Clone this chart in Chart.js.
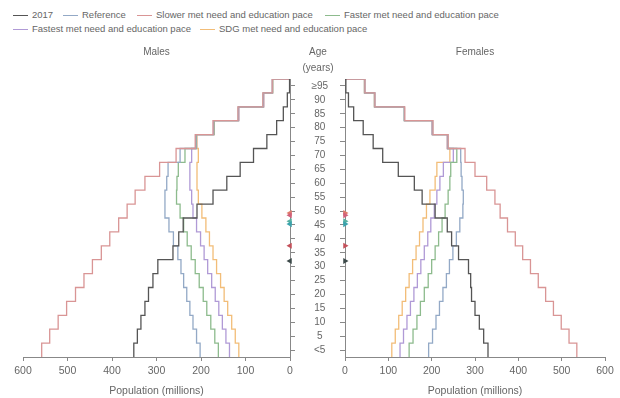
<!DOCTYPE html>
<html>
<head>
<meta charset="utf-8">
<script src="https://cdn.jsdelivr.net/npm/chart.js@4.4.1/dist/chart.umd.min.js"></script>
<style>
    body { margin: 0; background: #fff; width: 620px; height: 398px; position: relative; overflow: hidden; font-family: "Liberation Sans", Arial, sans-serif; }
    #maleWrap { position: absolute; left: 0; top: 0; width: 300px; height: 398px; }
    #femaleWrap { position: absolute; left: 300px; top: 0; width: 320px; height: 398px; }
    .leg { position: absolute; font-size: 9.5px; color: #666; white-space: nowrap; line-height: 12px; }
    .leg i { display: inline-block; width: 15px; height: 0; border-top-width: 1.5px; border-top-style: solid; vertical-align: middle; margin-right: 4px; }
</style>
</head>
<body>
<div id="legend"></div>
<div id="maleWrap"><canvas id="maleChart"></canvas></div>
<div id="femaleWrap"><canvas id="femaleChart"></canvas></div>
<script>
const ageLabels = ["<5", "5", "10", "15", "20", "25", "30", "35", "40", "45", "50", "55", "60", "65", "70", "75", "80", "85", "90", "≥95"];
const ageStarts = [0, 5, 10, 15, 20, 25, 30, 35, 40, 45, 50, 55, 60, 65, 70, 75, 80, 85, 90, 95];

const seriesNames = ["2017", "Reference", "Slower met need and education pace", "Faster met need and education pace", "Fastest met need and education pace", "SDG met need and education pace"];
const seriesColors = ["#555555", "#93a9c6", "#d99595", "#8dbb8d", "#b09ad6", "#f2bd78"];
const drawOrder = [0, 2, 1, 3, 4, 5];
const markerColors = ["#3d4a4a", "#3aa3ad", "#c4505a", "#56b0a0", "#d0607a", "#e07a6a"];
const markerAges = [34.5, 47.8, 40, 48.8, 51, 51.8];

// population in millions, by age group (<5 ... 95+)
const males2017 = [351, 343, 335, 326, 318, 308, 297, 263, 250, 240, 209, 173, 142, 112, 82, 52, 30, 15, 6, 1];
const malesReference = [202, 210, 218, 225, 232, 239, 245, 252, 262, 272, 281, 281, 277, 274, 247, 212, 172, 116, 60, 40];
const malesSlower = [558, 540, 521, 502, 482, 463, 444, 424, 405, 385, 366, 348, 326, 293, 256, 213, 173, 117, 61, 40];
const malesFaster = [161, 169, 178, 187, 195, 204, 213, 222, 231, 239, 247, 255, 254, 251, 236, 211, 171, 116, 60, 39];
const malesFastest = [136, 144, 152, 160, 168, 176, 185, 193, 201, 210, 218, 221, 225, 225, 221, 210, 171, 115, 59, 39];
const malesSdg = [115, 123, 131, 140, 148, 156, 165, 173, 181, 189, 198, 206, 209, 209, 206, 209, 170, 115, 59, 39];

const females2017 = [330, 320, 310, 300, 292, 290, 285, 262, 246, 236, 208, 178, 160, 123, 87, 65, 42, 20, 8, 2];
const femalesReference = [193, 202, 210, 218, 226, 234, 241, 249, 257, 265, 272, 273, 270, 268, 267, 237, 202, 137, 69, 46];
const femalesSlower = [535, 517, 499, 481, 463, 446, 428, 410, 393, 375, 358, 346, 327, 300, 277, 238, 203, 138, 69, 46];
const femalesFaster = [148, 157, 166, 174, 183, 192, 200, 208, 216, 224, 231, 238, 242, 244, 258, 237, 202, 137, 68, 45];
const femalesFastest = [127, 135, 143, 151, 159, 167, 175, 183, 191, 198, 206, 212, 219, 227, 250, 236, 201, 137, 68, 45];
const femalesSdg = [108, 116, 124, 132, 140, 148, 156, 164, 172, 180, 188, 196, 208, 212, 242, 236, 201, 137, 68, 45];

const legendLeft = [13, 63, 137, 325, 13, 200];
const legendRow = [0, 0, 0, 0, 1, 1];

// html legend
const legend = document.getElementById("legend");
seriesNames.forEach((name, i) => {
    const div = document.createElement("div");
    div.className = "leg";
    div.style.left = legendLeft[i] + "px";
    div.style.top = (9 + legendRow[i] * 14) + "px";
    div.innerHTML = `<i style="border-top-color:${seriesColors[i]}"></i>${name}`;
    legend.appendChild(div);
});

function stepPoints(values) {
    const pts = values.map((v, i) => ({ x: v, y: ageStarts[i] }));
    pts.push({ x: values[values.length - 1], y: 100 });
    pts.push({ x: 0, y: 100 });
    return pts;
}

function buildDatasets(seriesList, rotation) {
    const lines = seriesList.map((values, i) => ({
        label: seriesNames[i],
        data: stepPoints(values),
        showLine: true,
        stepped: "after",
        borderColor: seriesColors[i],
        borderWidth: 1.3,
        pointRadius: 0,
        pointHoverRadius: 0,
        order: drawOrder[i] + 1,
    }));
    const markers = markerAges.map((age, i) => ({
        label: seriesNames[i] + " marker",
        data: [{ x: 0, y: age }],
        pointStyle: "triangle",
        rotation: rotation,
        pointRadius: 3.5,
        backgroundColor: markerColors[i],
        borderColor: markerColors[i],
        borderWidth: 0,
        clip: false,
        order: 0,
    }));
    return lines.concat(markers);
}

const textColor = "#666";
const axisColor = "#888";

const panelText = {
    id: "panelText",
    afterDraw(chart, args, opts) {
        const { ctx, chartArea } = chart;
        ctx.save();
        ctx.fillStyle = textColor;
        ctx.font = "10px 'Liberation Sans', Arial, sans-serif";
        ctx.textAlign = "center";
        ctx.textBaseline = "middle";
        ctx.fillText(opts.title, (chartArea.left + chartArea.right) / 2, 52);
        if (opts.ageX) {
            ctx.fillText("Age", opts.ageX, 52);
            ctx.fillText("(years)", opts.ageX, 68);
        }
        ctx.restore();
    },
};

function makePanel(canvasId, seriesList, isMale) {
    const ctx = document.getElementById(canvasId).getContext("2d");
    return new Chart(ctx, {
        type: "scatter",
        data: { datasets: buildDatasets(seriesList, isMale ? -90 : 90) },
        options: {
            responsive: true,
            maintainAspectRatio: false,
            animation: false,
            layout: { padding: isMale ? { top: 79, left: 23, right: 0, bottom: 0 } : { top: 79, left: 0, right: 15, bottom: 0 } },
            plugins: {
                legend: { display: false },
                tooltip: { enabled: false },
                panelText: { title: isMale ? "Males" : "Females", ageX: isMale ? null : 18 },
            },
            scales: {
                x: {
                    type: "linear",
                    reverse: isMale,
                    min: 0,
                    max: 600,
                    afterFit: (s) => { s.height = 41; },
                    ticks: { stepSize: 100, color: textColor, font: { size: 10.5 }, padding: 4 },
                    grid: { drawOnChartArea: false, tickLength: 4, color: axisColor },
                    border: { color: axisColor },
                    title: { display: true, text: "Population (millions)", color: textColor, font: { size: 10.5 }, padding: { top: 0, bottom: 1 } },
                },
                y: {
                    type: "linear",
                    position: isMale ? "right" : "left",
                    min: 0,
                    max: 100,
                    afterBuildTicks: (s) => { s.ticks = ageStarts.map((a) => ({ value: a + 2.5 })); },
                    afterFit: (s) => { s.width = isMale ? 10 : 45; },
                    ticks: {
                        display: !isMale,
                        autoSkip: false,
                        callback: (value, index) => ageLabels[index],
                        color: textColor,
                        font: { size: 10 },
                        crossAlign: "center",
                        padding: 12,
                    },
                    grid: { drawOnChartArea: false, tickLength: 5, color: axisColor },
                    border: { color: axisColor },
                },
            },
        },
        plugins: [panelText],
    });
}

makePanel("maleChart", [males2017, malesReference, malesSlower, malesFaster, malesFastest, malesSdg], true);
makePanel("femaleChart", [females2017, femalesReference, femalesSlower, femalesFaster, femalesFastest, femalesSdg], false);
</script>
</body>
</html>
